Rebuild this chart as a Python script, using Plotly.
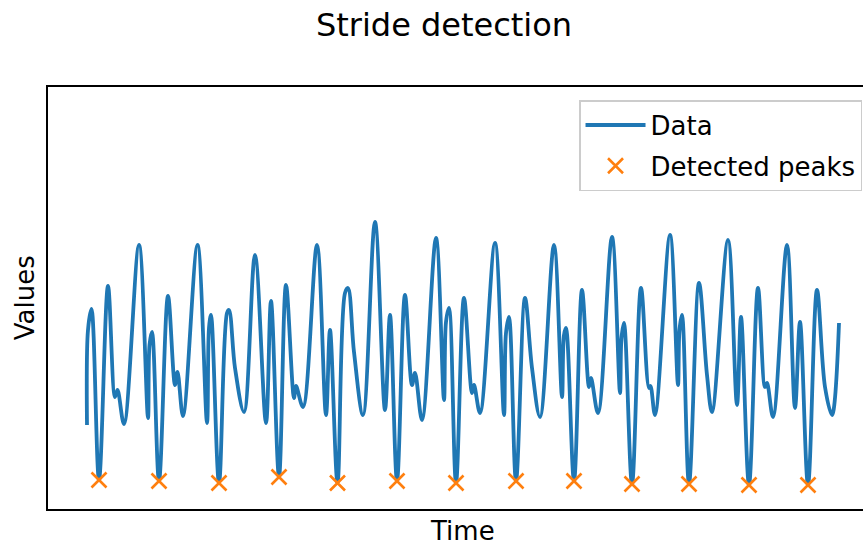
import plotly.graph_objects as go

# Time (s) and signal values (key points of the curve)
time_s = [0.00, 0.02, 0.09, 0.24, 0.42, 0.56, 0.61, 0.74, 1.04, 1.22, 1.25, 1.30, 1.44, 1.62, 1.76, 1.81,
          1.92, 2.21, 2.40, 2.44, 2.48, 2.64, 2.80, 2.84, 2.96, 3.14, 3.36, 3.58, 3.68, 3.84, 3.98, 4.14,
          4.18, 4.32, 4.60, 4.78, 4.86, 5.01, 5.16, 5.22, 5.34, 5.52, 5.76, 5.96, 6.06, 6.20, 6.36, 6.50,
          6.56, 6.70, 6.98, 7.14, 7.18, 7.24, 7.38, 7.54, 7.70, 7.74, 7.86, 8.16, 8.34, 8.38, 8.44, 8.58,
          8.76, 8.90, 9.06, 9.34, 9.50, 9.54, 9.58, 9.74, 9.90, 10.04, 10.08, 10.22, 10.50, 10.66, 10.69,
          10.74, 10.90, 11.08, 11.24, 11.27, 11.36, 11.66, 11.82, 11.85, 11.90, 12.04, 12.24, 12.40, 12.50,
          12.82, 13.00, 13.08, 13.24, 13.42, 13.56, 13.60, 13.72, 14.00, 14.16, 14.26, 14.42, 14.60, 14.76,
          14.90, 15.04]
values = [3.75, 8.50, 9.55, 1.00, 10.70, 5.15, 5.50, 3.80, 12.75, 4.10, 7.75, 8.40, 0.95, 10.20, 5.75, 6.40,
          4.20, 12.75, 3.85, 8.60, 9.25, 0.85, 9.35, 9.50, 6.60, 4.40, 12.25, 3.85, 9.95, 1.15, 10.75, 5.10,
          5.70, 4.65, 12.75, 4.25, 8.50, 0.85, 10.35, 10.60, 7.40, 4.25, 13.90, 4.50, 9.25, 0.95, 10.25, 5.75,
          6.35, 4.00, 13.10, 5.00, 8.90, 9.60, 0.85, 10.10, 5.35, 5.75, 4.35, 12.85, 4.25, 8.35, 9.15, 0.95,
          10.10, 6.60, 4.15, 12.75, 5.15, 8.25, 8.60, 0.95, 10.50, 5.65, 6.10, 4.35, 13.15, 5.35, 8.10,
          8.85, 0.80, 10.60, 5.60, 5.70, 4.25, 13.25, 5.75, 8.50, 9.25, 0.80, 10.85, 6.25, 4.40,
          13.00, 4.75, 9.15, 0.75, 10.60, 5.65, 5.85, 4.15, 12.75, 4.60, 8.90, 0.75, 10.50, 5.65,
          4.25, 8.85]
# indices of the detected stride minima ("peaks" of the inverted signal)
peak_idx = [3, 12, 21, 29, 37, 45, 54, 63, 71, 80, 89, 96, 104]

peak_t = [time_s[i] for i in peak_idx]
peak_v = [values[i] for i in peak_idx]

FONT = "DejaVu Sans"

fig = go.Figure()
fig.add_trace(go.Scatter(
    x=time_s, y=values, mode="lines", name="Data", legendgroup="a",
    line=dict(color="#1f77b4", width=3.8, shape="spline", smoothing=1.0),
))
fig.add_trace(go.Scatter(
    x=peak_t, y=peak_v, mode="markers", name="Detected peaks", legendgroup="b",
    marker=dict(symbol="x-thin", size=15, color="#ff7f0e",
                line=dict(color="#ff7f0e", width=2.6)),
))

fig.update_layout(
    width=863, height=545,
    margin=dict(l=48, r=0, t=87, b=36),
    paper_bgcolor="white", plot_bgcolor="white",
    font=dict(family=FONT, color="black", size=26),
    title=dict(text="Stride detection", x=0.5145, xref="container", xanchor="center",
               y=1 - 25 / 545, yref="container", yanchor="middle",
               font=dict(family=FONT, size=32, color="black")),
    xaxis=dict(range=[-0.78, 15.52], showticklabels=False, ticks="", showgrid=False,
               zeroline=False, showline=True, linecolor="black", linewidth=1.5, mirror=True),
    yaxis=dict(range=[-0.45, 20.65], showticklabels=False, ticks="", showgrid=False,
               zeroline=False, showline=True, linecolor="black", linewidth=1.5),
    legend=dict(x=0.9988, xanchor="right", y=0.969, yanchor="top",
                bgcolor="white", bordercolor="#cccccc", borderwidth=1.5,
                itemwidth=60, tracegroupgap=4,
                font=dict(family=FONT, size=26, color="black")),
    showlegend=True,
    annotations=[
        dict(text="Time", xref="paper", yref="paper", x=0.508, y=-0.052,
             xanchor="center", yanchor="middle", showarrow=False,
             font=dict(family=FONT, size=26, color="black")),
        dict(text="Values", xref="paper", yref="paper", x=-0.028, y=0.5,
             xanchor="center", yanchor="middle", textangle=-90, showarrow=False,
             font=dict(family=FONT, size=26, color="black")),
    ],
)

fig.write_html("out.html")
